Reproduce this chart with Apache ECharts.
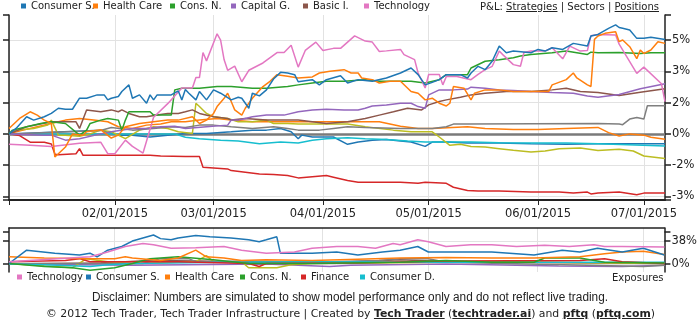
<!DOCTYPE html>
<html>
<head>
<meta charset="utf-8">
<script src="https://cdn.jsdelivr.net/npm/echarts@6/dist/echarts.min.js"></script>
<style>
html,body{margin:0;padding:0;background:#fff;}
#wrap{position:relative;width:700px;height:327px;overflow:hidden;}
#chart{position:absolute;left:0;top:0;width:700px;height:327px;}
.txt{position:absolute;white-space:nowrap;color:#222;transform-origin:0 0;}
#nav{top:1px;font:10px "DejaVu Sans",sans-serif;}
#nav u{text-decoration:underline;}
#disc{top:290px;font:12px "Liberation Sans Narrow","Liberation Sans",sans-serif;}
#credit{top:308px;font:10px "DejaVu Sans",sans-serif;}
#credit b{font-weight:bold;text-decoration:underline;}
</style>
</head>
<body>
<div id="wrap">
  <div id="chart"></div>
  <div id="nav" class="txt">P&amp;L: <u>Strategies</u> | Sectors | <u>Positions</u></div>
  <div id="disc" class="txt">Disclaimer: Numbers are simulated to show model performance only and do not reflect live trading.</div>
  <div id="credit" class="txt">© 2012 Tech Trader, Tech Trader Infrastructure | Created by <b>Tech Trader</b> (<b>techtrader.ai</b>) and <b>pftq</b> (<b>pftq.com</b>)</div>
</div>
<script>
// ---- Data: cumulative P&L per sector (%) ----
const YEAR = 2015;
const START = '01-02', END = '07-07';
const monthTicks = ['02-01', '03-01', '04-01', '05-01', '06-01', '07-01'];
const pnlTicks = [-3, -1.5, 0, 1.5, 3, 4.5];
const expTicks = [0, 38];

const pnlConsumerS = [['01-02',0],['01-04',0.26],['01-07',0.82],['01-09',0.66],['01-12',0.82],['01-14',0.98],['01-16',1.23],['01-18',1.18],['01-20',1.18],['01-22',1.71],['01-24',1.71],['01-27',1.87],['01-29',1.87],['01-30',1.63],['01-31',1.71],['02-02',1.79],['02-03',2.03],['02-05',2.35],['02-06',1.71],['02-08',1.87],['02-10',1.47],['02-11',1.87],['02-12',1.63],['02-13',1.87],['02-17',1.87],['02-19',2.06],['02-20',1.63],['02-21',2.13],['02-22',1.95],['02-24',1.63],['02-25',2.03],['02-27',1.63],['03-01',2.11],['03-03',1.95],['03-06',1.63],['03-08',1.76],['03-09',1.71],['03-11',1.23],['03-12',1.95],['03-14',1.82],['03-16',2.11],['03-18',2.63],['03-20',2.95],['03-22',2.92],['03-24',2.84],['03-25',2.5],['03-29',2.6],['03-31',2.35],['04-02',2.6],['04-06',2.79],['04-08',2.44],['04-11',2.6],['04-15',2.52],['04-19',2.68],['04-23',2.92],['04-26',3.16],['04-28',2.84],['04-30',2.35],['05-02',2.47],['05-04',2.6],['05-06',2.84],['05-10',2.84],['05-12',2.68],['05-13',2.92],['05-15',3.24],['05-17',3.08],['05-19',3.48],['05-21',4.21],['05-23',3.89],['05-25',3.97],['05-30',3.89],['06-01',4.05],['06-03',3.97],['06-05',4.13],['06-08',4.05],['06-11',4.34],['06-15',4.21],['06-16',4.69],['06-18',4.77],['06-21',5.06],['06-23',5.23],['06-24',5.1],['06-25',5.06],['06-27',4.98],['06-29',4.58],['07-01',4.58],['07-03',4.63],['07-07',4.53]];

const pnlHealthCare = [['01-02',0.26],['01-05',0.74],['01-08',1.06],['01-10',0.9],['01-12',0.66],['01-14',0.5],['01-15',-1.1],['01-16',-0.95],['01-18',-0.63],['01-20',0],['01-23',-0.06],['01-24',0.1],['01-28',0.2],['01-31',-0.2],['02-02',-0.06],['02-04',0.34],['02-08',0.5],['02-12',0.58],['02-16',0.66],['02-19',0.66],['02-23',0.82],['02-25',0.5],['02-27',0.66],['03-01',0.98],['03-02',1.31],['03-04',1.71],['03-05',1.95],['03-06',1.55],['03-07',1.15],['03-09',0.9],['03-10',1.23],['03-12',1.71],['03-15',2.27],['03-17',2.52],['03-19',2.84],['03-22',2.76],['03-25',2.68],['03-29',2.73],['03-31',2.92],['04-03',3.0],['04-07',3.08],['04-09',2.92],['04-11',2.92],['04-12',2.68],['04-15',2.6],['04-17',2.44],['04-20',2.52],['04-23',2.52],['04-26',2.03],['04-28',1.95],['04-30',1.63],['05-02',1.71],['05-04',1.47],['05-06',1.34],['05-07',1.47],['05-08',2.27],['05-11',2.19],['05-13',1.63],['05-14',1.95],['05-17',2.11],['05-21',2.11],['05-25',2.03],['05-29',2.03],['06-01',2.03],['06-04',2.03],['06-05',2.35],['06-09',2.6],['06-11',2.92],['06-12',2.68],['06-15',2.35],['06-16',2.27],['06-17',4.53],['06-18',4.69],['06-20',4.82],['06-23',4.9],['06-24',4.42],['06-25',4.5],['06-27',4.18],['06-29',3.61],['06-30',4.02],['07-01',3.85],['07-02',3.94],['07-03',4.02],['07-05',4.42],['07-07',4.34]];

const pnlConsN = [['01-02',0],['01-03',0.18],['01-07',0.34],['01-11',0.5],['01-14',0.58],['01-18',0.5],['01-22',-0.06],['01-24',0.18],['01-25',0.5],['01-28',0.66],['01-30',0.74],['02-02',0.66],['02-03',0.18],['02-04',0.66],['02-05',1.06],['02-11',1.06],['02-12',0.9],['02-17',0.9],['02-18',2.11],['02-20',2.19],['02-25',2.19],['03-02',2.27],['03-06',2.27],['03-12',2.19],['03-16',2.19],['03-22',2.27],['03-25',2.35],['03-29',2.44],['04-02',2.52],['04-07',2.52],['04-13',2.6],['04-17',2.52],['04-23',2.52],['04-26',2.52],['04-30',2.44],['05-04',2.6],['05-06',2.84],['05-12',2.84],['05-13',3.16],['05-17',3.48],['05-21',3.56],['05-25',3.65],['05-27',3.73],['05-30',3.81],['06-05',3.89],['06-09',3.97],['06-15',3.81],['06-16',3.92],['06-18',3.89],['06-24',3.9],['06-30',3.85],['07-03',3.89],['07-07',3.89]];

const pnlCapitalG = [['01-02',0],['01-12',-0.06],['01-14',-0.06],['01-18',-0.3],['01-22',-0.23],['01-28',0],['01-31',0.1],['02-06',0.26],['02-10',0.26],['02-14',0.34],['02-18',0.37],['02-21',0.26],['02-27',0.34],['03-05',0.42],['03-06',0.66],['03-08',0.66],['03-10',0.74],['03-12',0.82],['03-16',0.9],['03-21',0.9],['03-25',1.06],['03-29',1.15],['04-02',1.18],['04-07',1.15],['04-11',1.15],['04-13',1.23],['04-15',1.34],['04-19',1.39],['04-23',1.47],['04-26',1.47],['04-28',1.31],['04-30',1.23],['05-01',1.87],['05-04',2.11],['05-08',2.11],['05-12',2.15],['05-13',2.24],['05-17',2.19],['05-21',2.11],['05-25',2.08],['05-30',2.03],['06-05',1.98],['06-11',1.95],['06-15',1.82],['06-18',1.76],['06-24',1.89],['06-30',2.16],['07-07',2.4]];

const pnlBasicI = [['01-02',0],['01-07',0.34],['01-14',0.58],['01-21',0.58],['01-22',0.26],['01-24',1.15],['01-28',1.06],['01-31',1.15],['02-02',1.06],['02-03',1.15],['02-05',0.98],['02-08',0.82],['02-10',0.82],['02-13',0.9],['02-16',0.98],['02-19',0.98],['02-21',1.06],['02-23',1.15],['02-25',0.98],['03-01',0.82],['03-05',0.74],['03-06',0.66],['03-10',0.74],['03-16',0.66],['03-22',0.66],['03-25',0.66],['03-29',0.58],['04-02',0.5],['04-08',0.58],['04-13',0.74],['04-17',0.9],['04-21',1.06],['04-25',1.23],['04-29',1.15],['05-01',1.39],['05-04',1.55],['05-06',1.63],['05-10',1.76],['05-13',1.87],['05-17',1.95],['05-23',2.03],['05-30',2.03],['06-05',2.11],['06-09',2.19],['06-13',2.03],['06-18',1.98],['06-24',1.84],['06-30',2.0],['07-07',2.16]];

const pnlTechnology = [['01-02',-0.5],['01-08',-0.55],['01-14',-0.6],['01-22',-0.45],['01-28',-0.4],['01-30',-0.95],['02-01',-0.95],['02-04',-0.3],['02-06',-0.6],['02-09',-0.92],['02-12',0.8],['02-16',1.45],['02-20',2.2],['02-23',2.2],['02-24',2.7],['02-25',2.7],['02-26',3.9],['02-27',3.5],['03-02',4.8],['03-03',4.5],['03-04',3.55],['03-05',3.05],['03-07',3.25],['03-09',2.5],['03-11',3.05],['03-15',3.4],['03-19',3.9],['03-21',3.9],['03-23',4.25],['03-25',3.2],['03-27',4.0],['03-30',4.4],['04-01',4.0],['04-04',4.1],['04-06',4.1],['04-10',4.7],['04-13',4.45],['04-15',4.4],['04-17',3.95],['04-19',3.98],['04-23',4.05],['04-24',3.8],['04-27',3.56],['04-28',2.92],['04-30',2.2],['05-01',2.85],['05-04',2.85],['05-05',2.35],['05-06',2.75],['05-09',2.75],['05-13',2.6],['05-15',2.85],['05-17',3.08],['05-19',3.24],['05-21',3.97],['05-22',3.8],['05-25',3.32],['05-27',3.24],['05-28',3.9],['05-30',3.97],['06-03',3.97],['06-05',4.13],['06-08',3.6],['06-10',4.21],['06-13',3.97],['06-15',4.0],['06-16',4.7],['06-18',4.77],['06-23',4.74],['06-24',4.3],['06-29',2.9],['07-01',3.2],['07-06',2.4],['07-07',1.55]];

const pnlUtilities = [['01-02',0],['01-28',0.16],['01-31',0.31],['02-06',0.18],['02-12',0.26],['02-17',0.34],['02-21',0.31],['02-25',0.42],['03-01',0.42],['03-06',0.34],['03-12',0.26],['03-18',0.34],['03-22',0.26],['03-25',0.18],['03-31',0.18],['04-04',0.26],['04-08',0.34],['04-13',0.31],['04-23',0.26],['05-02',0.26],['05-06',0.34],['05-08',0.47],['05-12',0.47],['06-18',0.5],['06-24',0.47],['06-25',0.44],['06-27',0.71],['06-29',0.79],['07-01',0.71],['07-02',1.35],['07-07',1.35]];

const pnlEnergy = [['01-02',0],['01-04',0.18],['01-09',0.26],['01-13',0.42],['01-14',0.66],['01-16',-0.06],['01-18',-0.06],['01-22',-0.11],['01-25',0],['01-28',0.18],['01-31',0.1],['02-04',-0.23],['02-08',0.18],['02-12',0.34],['02-16',0.26],['02-19',0.1],['02-23',0.02],['02-24',1.47],['02-25',1.31],['02-27',0.98],['03-01',0.82],['03-05',0.74],['03-08',0.58],['03-12',0.58],['03-16',0.66],['03-18',0.5],['03-22',0.5],['03-25',0.47],['03-31',0.47],['04-08',0.47],['04-13',0.34],['04-21',0.18],['04-26',0.1],['05-02',0.1],['05-04',-0.15],['05-07',-0.55],['05-10',-0.5],['05-13',-0.6],['05-17',-0.63],['05-21',-0.71],['05-25',-0.79],['05-30',-0.87],['06-03',-0.82],['06-07',-0.71],['06-13',-0.68],['06-18',-0.8],['06-24',-0.74],['06-28',-0.82],['07-01',-1.06],['07-07',-1.18]];

const pnlConsumerD = [['01-02',0],['02-18',0],['02-21',-0.16],['02-25',-0.23],['03-03',-0.31],['03-08',-0.34],['03-14',-0.47],['03-20',-0.39],['03-25',-0.44],['03-29',-0.31],['04-02',-0.23],['04-08',-0.18],['04-13',-0.23],['04-19',-0.27],['04-25',-0.34],['04-30',-0.39],['05-06',-0.39],['05-13',-0.39],['05-21',-0.42],['05-30',-0.44],['06-09',-0.44],['06-18',-0.47],['07-07',-0.58]];

const pnlTransport = [['01-02',0],['01-28',0.18],['02-02',-0.06],['02-06',-0.06],['02-11',-0.15],['02-16',-0.06],['02-21',0.02],['02-27',0.02],['03-06',0.1],['03-12',0.18],['03-16',0.18],['03-20',0.26],['03-23',0.1],['03-25',-0.23],['03-26',-0.06],['03-29',-0.15],['04-04',-0.15],['04-08',-0.5],['04-11',-0.39],['04-15',-0.31],['04-19',-0.27],['04-23',-0.34],['04-26',-0.39],['04-30',-0.6],['05-02',-0.39],['05-06',-0.39],['05-12',-0.44],['05-21',-0.44],['05-30',-0.47],['06-09',-0.5],['06-18',-0.47],['07-07',-0.47]];

const pnlTelecom = [['01-02',0],['01-06',0.18],['01-10',0.34],['01-14',0.5],['01-16',0.58],['01-18',0.66],['01-22',0.74],['01-26',0.66],['01-30',0.58],['02-02',0.34],['02-06',0.26],['02-10',0.42],['02-14',0.47],['02-17',0.58],['02-21',0.58],['02-25',0.66],['03-02',0.74],['03-06',0.66],['03-12',0.58],['03-16',0.58],['03-22',0.58],['03-29',0.58],['04-06',0.58],['04-17',0.58],['04-23',0.37],['04-28',0.26],['05-02',0.26],['05-12',0.34],['05-17',0.26],['05-25',0.21],['06-01',0.21],['06-09',0.26],['06-18',0.31],['06-21',0.06],['06-24',-0.1],['06-27',0],['07-01',-0.06],['07-03',-0.16],['07-07',-0.26]];

const pnlFinance = [['01-02',0],['01-05',-0.08],['01-08',-0.4],['01-12',-0.4],['01-14',-0.48],['01-15',-0.97],['01-16',-1.0],['01-21',-0.95],['01-22',-0.71],['01-23',-1.03],['01-28',-1.03],['02-11',-1.03],['02-14',-1.06],['02-21',-1.08],['02-25',-1.08],['02-26',-1.6],['03-01',-1.63],['03-05',-1.68],['03-06',-1.76],['03-10',-1.84],['03-14',-1.92],['03-18',-1.95],['03-22',-2.0],['03-25',-2.11],['03-29',-2.05],['04-02',-2.0],['04-04',-2.08],['04-08',-2.24],['04-11',-2.32],['04-17',-2.32],['04-23',-2.32],['04-28',-2.37],['04-30',-2.32],['05-06',-2.37],['05-08',-2.56],['05-12',-2.71],['05-15',-2.74],['05-21',-2.74],['05-30',-2.79],['06-07',-2.79],['06-11',-2.84],['06-15',-2.79],['06-16',-2.88],['06-18',-2.84],['06-24',-2.79],['06-29',-2.92],['07-01',-2.84],['07-07',-2.84]];

// ---- Data: sector exposures (%) ----
const expTechnology = [['01-02',4],['01-25',12],['01-30',20],['02-04',29],['02-09',34],['02-12',32],['02-17',26],['02-24',27],['03-04',29],['03-09',23],['03-16',18],['03-24',20],['03-29',26],['04-05',29],['04-11',29],['04-16',26],['04-21',34],['04-23',32],['04-28',40],['05-01',37],['05-06',29],['05-13',32],['05-19',32],['05-26',29],['06-03',31],['06-10',29],['06-17',32],['06-20',29],['06-25',29],['07-07',28]];
const expConsumerS = [['01-02',1],['01-07',23],['01-15',18],['01-22',15],['01-25',18],['01-27',12],['01-30',23],['02-03',29],['02-06',38],['02-12',48],['02-14',42],['02-17',40],['02-19',43],['02-24',47],['02-28',45],['03-06',43],['03-11',40],['03-14',37],['03-16',40],['03-19',45],['03-20',18],['03-29',18],['04-05',20],['04-11',15],['04-18',20],['04-23',23],['04-28',29],['05-01',20],['05-19',20],['05-31',15],['06-08',23],['06-13',20],['06-18',26],['06-25',20],['07-01',26],['07-07',15]];
const expHealthCare = [['01-02',12],['01-12',10],['01-25',9],['02-01',9],['02-04',12],['02-06',10],['02-14',6],['02-19',10],['02-24',23],['02-27',12],['03-04',10],['03-09',6],['03-16',7],['03-29',6],['04-11',8],['04-23',10],['05-06',11],['05-19',10],['05-31',10],['06-13',12],['06-20',17],['06-25',20],['07-01',21],['07-07',16]];
const expConsN = [['01-02',1],['01-12',-4],['01-20',-6],['01-25',-10],['02-01',-6],['02-06',1],['02-11',9],['02-19',12],['03-01',7],['03-11',1],['03-29',1],['04-23',3],['05-06',6],['05-19',3],['05-31',3],['06-03',10],['06-13',10],['06-20',3],['07-07',2]];
const expFinance = [['01-02',4],['01-18',6],['01-22',9],['01-25',4],['02-19',4],['03-11',1],['03-14',-4],['03-16',1],['04-11',2],['05-06',5],['06-13',6],['06-20',9],['06-25',4],['07-07',1]];
const expConsumerD = [['01-02',0],['01-12',-1],['01-25',-4],['01-30',-1],['02-06',1],['03-04',3],['03-29',4],['05-06',3],['07-07',3]];
const expUtilities = [['01-02',1],['02-09',1],['02-14',9],['02-22',9],['02-24',4],['03-11',5],['03-29',3],['04-17',6],['04-23',9],['05-01',9],['05-06',3],['06-25',-3],['07-01',-4],['07-07',-2]];
const expEnergy = [['01-02',1],['01-20',-6],['01-24',9],['01-30',4],['02-06',1],['02-24',4],['02-27',14],['03-01',4],['03-09',4],['03-11',-6],['03-19',-6],['03-23',-1],['03-29',1],['05-06',3],['05-19',4],['07-07',1]];
const expCapitalG = [['01-02',0],['02-06',-2],['03-16',0],['04-03',-4],['04-09',-2],['05-06',0],['06-07',-3],['06-25',-4],['07-07',-2]];
const expBasicI = [['01-02',0],['01-28',2],['02-11',6],['02-25',5],['03-11',3],['04-09',4],['04-23',7],['05-07',4],['06-18',2],['07-07',1]];

// ---- Helpers ----
const toTime = s => { const [m, d] = s.split('-').map(Number); return Date.UTC(YEAR, m - 1, d); };
const pts = arr => arr.map(([d, v]) => [toTime(d), v]);
const pad2 = n => (n < 10 ? '0' : '') + n;
const fmtDate = v => { const d = new Date(v); return pad2(d.getUTCMonth() + 1) + '/' + pad2(d.getUTCDate()) + '/' + d.getUTCFullYear(); };

// header and footer lines are stretched to their spans
function fit(id, left, width) {
  const el = document.getElementById(id);
  el.style.left = left + 'px';
  const w = el.getBoundingClientRect().width;
  el.style.transform = 'scaleX(' + (width / w) + ')';
}
fit('nav', 480, 179);
fit('disc', 92, 516);
fit('credit', 46, 609);

const C = { blue: '#1f77b4', orange: '#ff7f0e', green: '#2ca02c', red: '#d62728', purple: '#9467bd',
            brown: '#8c564b', pink: '#e377c2', gray: '#7f7f7f', olive: '#bcbd22', cyan: '#17becf' };
const FONT = '"DejaVu Sans", sans-serif';
const INK = '#222';
const GRIDC = '#e2e2e2';

const tMin = toTime(START), tMax = toTime(END);
const mTicks = monthTicks.map(toTime);
const pnlMin = -3.17, pnlMax = 5.7;
const expMin = -13, expMax = 59.5;

const pnlSeries = [
  ['Transport', C.blue, pnlTransport],
  ['Telecom', C.orange, pnlTelecom],
  ['Finance', C.red, pnlFinance],
  ['Consumer D.', C.cyan, pnlConsumerD],
  ['Energy', C.olive, pnlEnergy],
  ['Utilities', C.gray, pnlUtilities],
  ['Basic I.', C.brown, pnlBasicI],
  ['Capital G.', C.purple, pnlCapitalG],
  ['Cons. N.', C.green, pnlConsN],
  ['Technology', C.pink, pnlTechnology],
  ['Health Care', C.orange, pnlHealthCare],
  ['Consumer S.', C.blue, pnlConsumerS]
];
const expSeries = [
  ['Basic I.', C.brown, expBasicI],
  ['Capital G.', C.purple, expCapitalG],
  ['Energy', C.olive, expEnergy],
  ['Utilities', C.gray, expUtilities],
  ['Consumer D.', C.cyan, expConsumerD],
  ['Finance', C.red, expFinance],
  ['Cons. N.', C.green, expConsN],
  ['Health Care', C.orange, expHealthCare],
  ['Consumer S.', C.blue, expConsumerS],
  ['Technology', C.pink, expTechnology]
];

const series = [];
pnlSeries.forEach(([name, color, data], i) => {
  const s = { name, type: 'line', xAxisIndex: 0, yAxisIndex: 1, data: pts(data), showSymbol: false, symbol: 'none',
              lineStyle: { color, width: 1.5 }, itemStyle: { color }, z: 3 };
  if (i === 0) {
    // zero reference line, kept beneath the sector lines
    s.markLine = { silent: true, z: 1, symbol: 'none', label: { show: false },
                   lineStyle: { color: '#7a7a7a', width: 2.5, type: 'solid' }, data: [{ yAxis: 0 }] };
  }
  series.push(s);
});
expSeries.forEach(([name, color, data]) => {
  series.push({ name, type: 'line', xAxisIndex: 1, yAxisIndex: 4, data: pts(data), showSymbol: false, symbol: 'none',
                lineStyle: { color, width: 1.5 }, itemStyle: { color }, z: 3 });
});

// legend layouts (icon left edge, top)
const legendText = { fontFamily: FONT, fontSize: 10, color: INK };
const mkLegend = (name, left, top) => ({ data: [name], left, top, icon: 'rect', itemWidth: 5, itemHeight: 5,
                                          padding: 0, textStyle: legendText });
const topLegendNames = ['Consumer S.', 'Health Care', 'Cons. N.', 'Capital G.', 'Basic I.', 'Technology'];
const topLegendLeft = [21, 93, 170, 231, 303, 364];
const bottomLegendNames = ['Technology', 'Consumer S.', 'Health Care', 'Cons. N.', 'Finance', 'Consumer D.'];
const bottomLegendLeft = [17, 86, 165, 240, 301, 360];
const legends = [
  ...topLegendNames.map((n, i) => mkLegend(n, topLegendLeft[i], 1)),
  ...bottomLegendNames.map((n, i) => mkLegend(n, bottomLegendLeft[i], 272))
];

const axisLbl = { fontFamily: FONT, fontSize: 11.5, color: INK };
const pctFmt = v => v.toFixed(0) + '%';

const option = {
  animation: false,
  backgroundColor: '#fff',
  legend: legends,
  grid: [
    { left: 9, right: 35, top: 15, height: 185 },
    { left: 9, right: 35, top: 228, height: 44 }
  ],
  xAxis: [
    { type: 'value', gridIndex: 0, min: tMin, max: tMax,
      axisLine: { show: true, onZero: false, lineStyle: { color: INK, width: 2 } },
      axisTick: { show: true, customValues: [tMin, ...mTicks], length: 5, lineStyle: { color: INK, width: 1 } },
      axisLabel: { ...axisLbl, customValues: mTicks, formatter: fmtDate, margin: 8 },
      splitLine: { show: true, lineStyle: { color: GRIDC, width: 1 } } },
    { type: 'value', gridIndex: 1, position: 'top', min: tMin, max: tMax,
      axisLine: { show: true, onZero: false, lineStyle: { color: INK, width: 1.5 } },
      axisTick: { show: false, customValues: mTicks },
      axisLabel: { show: false },
      splitLine: { show: true, lineStyle: { color: GRIDC, width: 1 } } }
  ],
  yAxis: [
    { type: 'value', gridIndex: 0, position: 'left', min: pnlMin, max: pnlMax,
      axisLine: { show: true, onZero: false, lineStyle: { color: INK, width: 1.5 } },
      axisTick: { show: true, customValues: [pnlMin, ...pnlTicks, pnlMax], length: 6, lineStyle: { color: INK, width: 1.5 } },
      axisLabel: { show: false }, splitLine: { show: false } },
    { type: 'value', gridIndex: 0, position: 'right', min: pnlMin, max: pnlMax,
      axisLine: { show: true, onZero: false, lineStyle: { color: INK, width: 1.5 } },
      axisTick: { show: true, customValues: [pnlMin, ...pnlTicks, pnlMax], length: 6, lineStyle: { color: INK, width: 1.5 } },
      axisLabel: { ...axisLbl, customValues: pnlTicks, formatter: pctFmt, margin: 7 },
      splitLine: { show: false } },
    { type: 'value', gridIndex: 0, position: 'right', min: pnlMin, max: pnlMax,
      axisLine: { show: false }, axisTick: { show: false, customValues: pnlTicks }, axisLabel: { show: false },
      splitLine: { show: true, lineStyle: { color: GRIDC, width: 1 } } },
    { type: 'value', gridIndex: 1, position: 'left', min: expMin, max: expMax,
      axisLine: { show: true, onZero: false, lineStyle: { color: INK, width: 1.5 } },
      axisTick: { show: true, customValues: [0, 38, 53], length: 6, lineStyle: { color: INK, width: 1.5 } },
      axisLabel: { show: false }, splitLine: { show: false } },
    { type: 'value', gridIndex: 1, position: 'right', min: expMin, max: expMax,
      axisLine: { show: true, onZero: false, lineStyle: { color: INK, width: 1.5 } },
      axisTick: { show: true, customValues: [0, 38, 53], length: 6, lineStyle: { color: INK, width: 1.5 } },
      axisLabel: { ...axisLbl, customValues: expTicks, formatter: v => v + '%', margin: 7 },
      splitLine: { show: false } },
    { type: 'value', gridIndex: 1, position: 'right', min: expMin, max: expMax,
      axisLine: { show: false }, axisTick: { show: false, customValues: expTicks }, axisLabel: { show: false },
      splitLine: { show: true, lineStyle: { color: GRIDC, width: 1 } } }
  ],
  graphic: [
    { type: 'text', left: 612, top: 273, style: { text: 'Exposures', font: '10px "DejaVu Sans", sans-serif', fill: INK } }
  ],
  series
};

const chart = echarts.init(document.getElementById('chart'), null, { renderer: 'canvas' });
chart.setOption(option);
</script>
</body>
</html>
